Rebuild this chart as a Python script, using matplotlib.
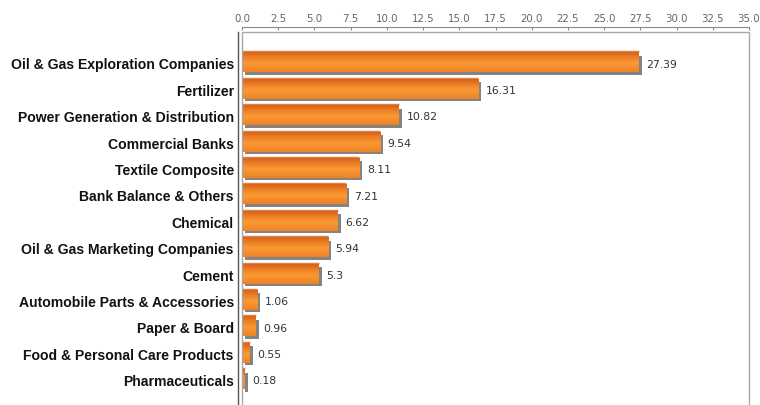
import numpy as np
import matplotlib
matplotlib.use("Agg")
import matplotlib.pyplot as plt
from matplotlib.transforms import ScaledTranslation
from matplotlib.patches import Rectangle
from matplotlib.colors import to_rgb
from matplotlib.font_manager import FontProperties

# Sector weights (%)
categories = [
    "Oil & Gas Exploration Companies",
    "Fertilizer",
    "Power Generation & Distribution",
    "Commercial Banks",
    "Textile Composite",
    "Bank Balance & Others",
    "Chemical",
    "Oil & Gas Marketing Companies",
    "Cement",
    "Automobile Parts & Accessories",
    "Paper & Board",
    "Food & Personal Care Products",
    "Pharmaceuticals",
]
values = [27.39, 16.31, 10.82, 9.54, 8.11, 7.21, 6.62, 5.94, 5.3, 1.06, 0.96, 0.55, 0.18]
value_labels = ["27.39", "16.31", "10.82", "9.54", "8.11", "7.21", "6.62",
                "5.94", "5.3", "1.06", "0.96", "0.55", "0.18"]
x_ticks = [0.0, 2.5, 5.0, 7.5, 10.0, 12.5, 15.0, 17.5, 20.0, 22.5, 25.0, 27.5, 30.0, 32.5, 35.0]

W, H = 760, 406
fig = plt.figure(figsize=(W / 100, H / 100), dpi=100)
ax = fig.add_axes([242 / W, -24 / H, 507 / W, 397 / H])

# frame: top axis line lifted above the plot box, dark left rule
for side in ("right", "bottom"):
    ax.spines[side].set_visible(False)
ax.spines["top"].set_position(("outward", 3.6))
ax.spines["top"].set_color("#8a8a8a")
ax.spines["top"].set_linewidth(0.8)
ax.spines["left"].set_position(("outward", 3))
ax.spines["left"].set_color("#555555")
ax.spines["left"].set_linewidth(1.0)
ax.add_patch(Rectangle((0, 0), 1, 1, transform=ax.transAxes, fill=False,
                       edgecolor="#a8a8a8", linewidth=1.0, zorder=5, clip_on=False))

px = 1 / 26.4            # one pixel in category units
bar_h = 19 * px
ypos = np.arange(len(values))

# drop shadow, shifted a few pixels right and down
shadow_tr = ax.transData + ScaledTranslation(3 / 100, -2.5 / 100, fig.dpi_scale_trans)
ax.barh(ypos, values, height=bar_h, color="#838383", transform=shadow_tr,
        zorder=1, linewidth=0)

# vertical orange gradient for each bar
stops = [(0.0, "#d5621a"), (0.25, "#ec7e25"), (0.55, "#fa9a33"), (1.0, "#ee8227")]
t = np.linspace(0, 1, 40)
grad = np.zeros((len(t), 1, 3))
for c in range(3):
    grad[:, 0, c] = np.interp(t, [s[0] for s in stops], [to_rgb(s[1])[c] for s in stops])
for yi, v in zip(ypos, values):
    ax.imshow(grad, extent=(0, v, yi + bar_h / 2, yi - bar_h / 2), aspect="auto",
              interpolation="bilinear", zorder=2)

# thin highlight line above each bar
ax.hlines(ypos - bar_h / 2 - 2 * px, 0, values, color="#e4803f", lw=1.0, zorder=2)

for yi, v, lab in zip(ypos, values, value_labels):
    ax.annotate(lab, (v, yi), xytext=(5.5, -0.5), textcoords="offset points",
                va="center", ha="left", fontsize=7.8, color="#333333",
                family="DejaVu Sans")

ax.set_xlim(0, 35)
ax.set_ylim(13.87, -1.167)

cat_font = FontProperties(family="Liberation Sans", weight="bold", size=10.1)
ax.set_yticks(ypos)
ax.set_yticklabels(categories, fontproperties=cat_font, color="#111111")
ax.tick_params(axis="y", length=0, pad=2.9)

ax.xaxis.tick_top()
ax.set_xticks(x_ticks)
ax.set_xticklabels([f"{v:.1f}" for v in x_ticks])
ax.tick_params(axis="x", direction="in", length=2.2, width=0.8, color="#8a8a8a",
               labelsize=7.4, labelcolor="#666666", pad=3)

fig.savefig("out.png", dpi=100)
